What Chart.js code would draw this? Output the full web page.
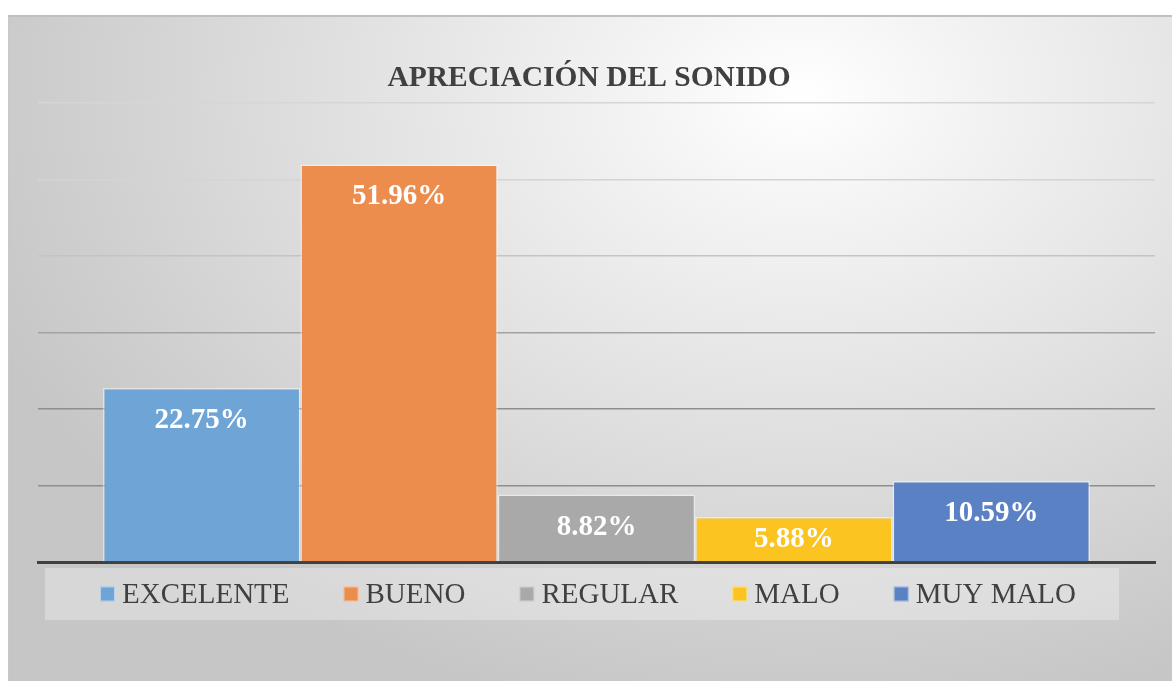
<!DOCTYPE html>
<html>
<head>
<meta charset="utf-8">
<script src="https://cdn.jsdelivr.net/npm/chart.js@4/dist/chart.umd.min.js"></script>
<style>
  html, body { margin: 0; padding: 0; background: #ffffff; width: 1172px; height: 681px; overflow: hidden; }
  #frame {
    position: absolute; left: 8px; top: 15px; width: 1164px; height: 666px;
    box-sizing: border-box;
    border-top: 2px solid #c0c0c0; border-left: 1px solid #c8c8c8;
    background: radial-gradient(ellipse 75% 95% at 68% 12%, #ffffff 0%, #f4f4f4 18%, #e2e2e2 50%, #d2d2d2 78%, #c6c6c6 100%);
  }
  #wrap { position: absolute; left: 8px; top: 15px; width: 1164px; height: 666px; }
</style>
</head>
<body>
<div id="frame"></div>
<div id="wrap"><canvas id="c" width="1164" height="666"></canvas></div>
<script>
const chartTitle = 'APRECIACIÓN DEL SONIDO';
const categories = [''];
const seriesNames = ['EXCELENTE', 'BUENO', 'REGULAR', 'MALO', 'MUY MALO'];
const seriesValues = [22.75, 51.96, 8.82, 5.88, 10.59];
const seriesLabels = ['22.75%', '51.96%', '8.82%', '5.88%', '10.59%'];
const seriesColors = ['#6fa5d6', '#ec8c4d', '#a9a9a9', '#fbc421', '#5b81c5'];
const yTicks = [0, 10, 20, 30, 40, 50, 60];
const gridColors = ['#404040', '#8e8e8e', '#8e8e8e', '#a2a2a2', '#c4c4c4', '#d4d4d4', '#d6d6d6'];

const datasets = seriesNames.map((name, i) => ({
  label: name,
  data: [seriesValues[i]],
  backgroundColor: seriesColors[i],
  borderColor: 'rgba(255,255,255,0.45)',
  borderWidth: 1.5,
  categoryPercentage: 0.8836,
  barPercentage: 1.0
}));

const SERIF = '"Liberation Serif", "Times New Roman", serif';

const titlePlugin = {
  id: 'titlePlugin',
  afterDraw(chart) {
    const ctx = chart.ctx;
    ctx.save();
    ctx.font = 'bold 29.5px ' + SERIF;
    ctx.fillStyle = '#404040';
    ctx.textAlign = 'center';
    ctx.textBaseline = 'middle';
    ctx.fillText(chartTitle, 581, 63);
    ctx.restore();
  }
};

const valueLabels = {
  id: 'valueLabels',
  afterDatasetsDraw(chart) {
    const ctx = chart.ctx;
    ctx.save();
    ctx.font = 'bold 29px ' + SERIF;
    ctx.fillStyle = '#ffffff';
    ctx.textAlign = 'center';
    ctx.textBaseline = 'middle';
    chart.data.datasets.forEach((ds, i) => {
      const el = chart.getDatasetMeta(i).data[0];
      const h = el.base - el.y;
      const y = h < 60 ? (el.y + el.base) / 2 : el.y + 32.5;
      ctx.fillText(seriesLabels[i], el.x, y);
    });
    ctx.restore();
  }
};

const customLegend = {
  id: 'customLegend',
  afterDraw(chart) {
    const ctx = chart.ctx;
    ctx.save();
    ctx.fillStyle = 'rgba(255,255,255,0.3)';
    ctx.fillRect(37, 553, 1074, 52);
    ctx.font = '29px ' + SERIF;
    const box = 15, gapText = 7, gapItem = 54;
    const widths = chart.data.datasets.map(ds => box + gapText + ctx.measureText(ds.label).width);
    const total = widths.reduce((a, b) => a + b, 0) + gapItem * (widths.length - 1);
    let x = 580 - total / 2;
    const cy = 579;
    ctx.textBaseline = 'middle';
    ctx.textAlign = 'left';
    chart.data.datasets.forEach((ds, i) => {
      ctx.fillStyle = ds.backgroundColor;
      ctx.fillRect(x, cy - box / 2, box, box);
      ctx.strokeStyle = 'rgba(255,255,255,0.5)';
      ctx.lineWidth = 1;
      ctx.strokeRect(x + 0.5, cy - box / 2 + 0.5, box - 1, box - 1);
      ctx.fillStyle = '#404040';
      ctx.fillText(ds.label, x + box + gapText, cy + 1);
      x += widths[i] + gapItem;
    });
    ctx.restore();
  }
};

new Chart(document.getElementById('c'), {
  type: 'bar',
  data: { labels: categories, datasets },
  options: {
    responsive: false,
    animation: false,
    layout: { padding: { left: 30, right: 17, top: 88, bottom: 119 } },
    plugins: {
      legend: { display: false },
      tooltip: { enabled: false },
      title: { display: false }
    },
    scales: {
      x: {
        display: true,
        grid: { display: false, drawTicks: false },
        ticks: { display: false },
        border: { display: true, color: '#404040', width: 3 }
      },
      y: {
        min: 0, max: 60,
        afterBuildTicks(scale) { scale.ticks = yTicks.map(v => ({ value: v })); },
        grid: {
          drawTicks: false,
          lineWidth: 1.5,
          color: ctx => gridColors[yTicks.indexOf(ctx.tick.value)] || '#bbbbbb'
        },
        ticks: { display: false },
        border: { display: false }
      }
    }
  },
  plugins: [valueLabels, customLegend, titlePlugin]
});
</script>
</body>
</html>
